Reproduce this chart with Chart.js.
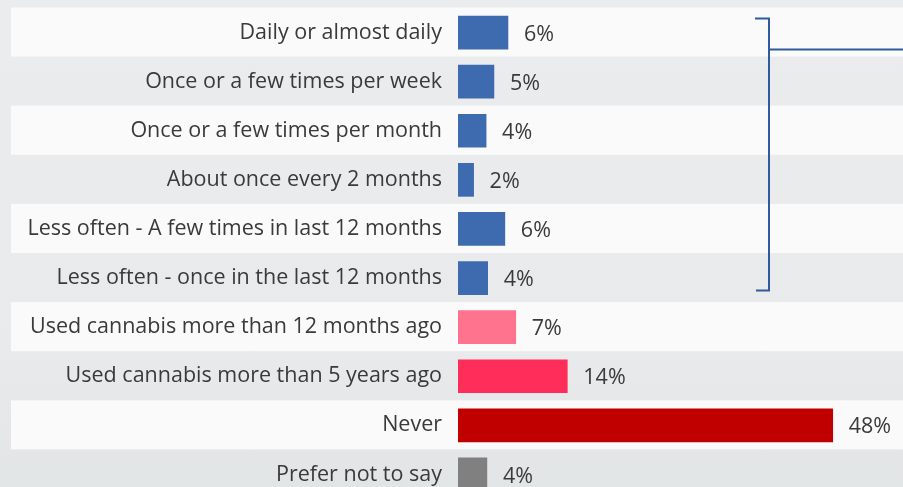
<!DOCTYPE html>
<html>
<head>
<meta charset="utf-8">
<script src="https://cdn.jsdelivr.net/npm/chart.js@4"></script>
<style>
  html, body { margin: 0; padding: 0; overflow: hidden; }
  body { width: 903px; height: 487px; background: linear-gradient(180deg, #ebecee 0%, #e9eaec 70%, #e2e5e5 100%); }
  #wrap { width: 903px; height: 500px; }
</style>
</head>
<body>
<div id="wrap"><canvas id="chart" width="903" height="500"></canvas></div>
<script>
// categorias e valores
var categorias = [
  'Daily or almost daily',
  'Once or a few times per week',
  'Once or a few times per month',
  'About once every 2 months',
  'Less often - A few times in last 12 months',
  'Less often - once in the last 12 months',
  'Used cannabis more than 12 months ago',
  'Used cannabis more than 5 years ago',
  'Never',
  'Prefer not to say'
];
var valores = [6.4, 4.6, 3.6, 2.0, 6.0, 3.8, 7.4, 14.0, 48.0, 3.7];
var rotulos = ['6%', '5%', '4%', '2%', '6%', '4%', '7%', '14%', '48%', '4%'];
var cores = ['#3e6bb0', '#3e6bb0', '#3e6bb0', '#3e6bb0', '#3e6bb0', '#3e6bb0',
             '#ff738e', '#ff2d5a', '#c00000', '#808080'];

var fonte = { family: "'Open Sans', sans-serif", size: 21.5 };

// faixas brancas alternadas (antes dos eixos, senão tapam os textos)
var faixas = {
  id: 'faixas',
  beforeDraw: function (chart) {
    var ctx = chart.ctx, y = chart.scales.y;
    var passo = y.getPixelForValue(1) - y.getPixelForValue(0);
    ctx.save();
    ctx.fillStyle = '#fafafa';
    for (var i = 0; i < categorias.length; i += 2) {
      var c = y.getPixelForValue(i);
      ctx.fillRect(11, c - passo / 2 - 0.5, chart.width - 11, passo);
    }
    ctx.restore();
  }
};

// rótulos de valor + colchete
var extras = {
  id: 'extras',
  afterDatasetsDraw: function (chart) {
    var ctx = chart.ctx, y = chart.scales.y;
    var meta = chart.getDatasetMeta(0);
    ctx.save();
    ctx.font = fonte.size + 'px ' + fonte.family;
    ctx.fillStyle = '#3a3a3a';
    ctx.textAlign = 'left';
    ctx.textBaseline = 'middle';
    meta.data.forEach(function (bar, i) {
      ctx.fillText(rotulos[i], bar.x + 16, bar.y + 2);
    });

    var topo = y.getPixelForValue(0) - 14;
    var base = y.getPixelForValue(5) + 12.5;
    var xv = 769;
    ctx.strokeStyle = '#2f5b9b';
    ctx.lineWidth = 2;
    ctx.beginPath();
    ctx.moveTo(755, topo);
    ctx.lineTo(xv, topo);
    ctx.lineTo(xv, base);
    ctx.lineTo(756, base);
    ctx.stroke();
    ctx.beginPath();
    ctx.moveTo(xv, topo + 31);
    ctx.lineTo(chart.width, topo + 31);
    ctx.stroke();
    ctx.restore();
  }
};

var ctx = document.getElementById('chart').getContext('2d');
window.grafico = new Chart(ctx, {
  type: 'bar',
  data: {
    labels: categorias,
    datasets: [{
      data: valores,
      backgroundColor: cores,
      barThickness: 33,
      borderWidth: 0
    }]
  },
  options: {
    indexAxis: 'y',
    responsive: false,
    animation: false,
    layout: { padding: { top: 8, bottom: 1, left: 0, right: 0 } },
    plugins: { legend: { display: false }, tooltip: { enabled: false } },
    scales: {
      x: { display: false, min: 0, max: 57 },
      y: {
        grid: { display: false, drawTicks: false },
        border: { display: false },
        ticks: { color: '#3a3a3a', font: fonte, padding: 16, autoSkip: false },
        afterFit: function (scale) {
          scale.width = 458;
          scale.paddingTop = 0;
          scale.paddingBottom = 0;
        }
      }
    }
  },
  plugins: [faixas, extras]
});
</script>
</body>
</html>
